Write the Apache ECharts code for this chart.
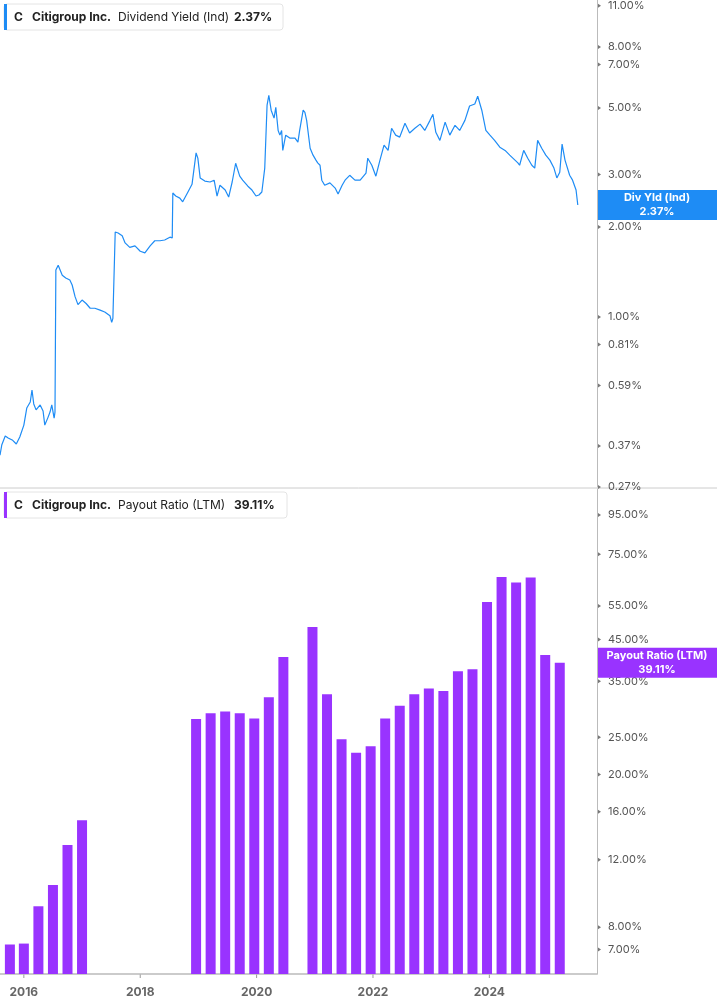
<!DOCTYPE html>
<html><head><meta charset="utf-8">
<script src="https://cdn.jsdelivr.net/npm/echarts@6/dist/echarts.min.js"></script>
<style>html,body{margin:0;padding:0;background:#fff}#c{width:717px;height:1005px}</style>
</head><body><div id="c"></div>
<script>
const yieldSeries = [
[2015.59,0.345],[2015.62,0.373],[2015.68,0.400],[2015.73,0.394],[2015.80,0.388],[2015.87,0.376],[2015.93,0.397],[2016.00,0.435],[2016.05,0.496],[2016.11,0.520],[2016.14,0.570],[2016.17,0.512],[2016.21,0.489],[2016.28,0.508],[2016.33,0.485],[2016.36,0.435],[2016.41,0.459],[2016.45,0.481],[2016.48,0.508],[2016.52,0.459],[2016.535,0.481],
[2016.55,1.436],[2016.59,1.49],[2016.66,1.38],[2016.72,1.35],[2016.79,1.33],[2016.83,1.28],[2016.88,1.17],[2016.93,1.10],[2017.00,1.14],[2017.07,1.11],[2017.14,1.07],[2017.22,1.07],[2017.31,1.055],[2017.39,1.04],[2017.48,1.01],[2017.51,0.96],[2017.53,0.99],
[2017.57,1.925],[2017.62,1.91],[2017.69,1.87],[2017.74,1.77],[2017.82,1.71],[2017.91,1.73],[2018.00,1.66],[2018.08,1.64],[2018.17,1.73],[2018.25,1.80],[2018.34,1.80],[2018.42,1.81],[2018.51,1.85],[2018.55,1.84],
[2018.56,2.60],[2018.61,2.54],[2018.68,2.50],[2018.73,2.43],[2018.82,2.62],[2018.89,2.78],[2018.96,3.54],[2018.99,3.40],[2019.03,2.92],[2019.11,2.85],[2019.20,2.83],[2019.27,2.87],[2019.32,2.54],[2019.37,2.76],[2019.46,2.66],[2019.52,2.52],[2019.58,2.83],[2019.64,3.27],[2019.71,2.96],[2019.76,2.87],[2019.85,2.74],[2019.92,2.66],[2019.99,2.54],[2020.04,2.56],[2020.09,2.62],
[2020.14,3.15],[2020.18,5.12],[2020.21,5.52],[2020.25,4.92],[2020.30,4.63],[2020.33,5.03],[2020.37,4.21],[2020.40,4.06],[2020.43,4.21],[2020.45,3.61],[2020.50,4.06],[2020.57,3.97],[2020.66,3.97],[2020.71,3.85],[2020.74,4.21],[2020.80,4.92],[2020.83,4.84],[2020.86,4.55],[2020.92,3.67],[2020.97,3.48],
[2021.02,3.35],[2021.05,3.28],[2021.09,3.22],[2021.12,2.87],[2021.17,2.76],[2021.26,2.81],[2021.35,2.70],[2021.40,2.58],[2021.47,2.76],[2021.52,2.87],[2021.60,2.98],[2021.69,2.87],[2021.78,2.87],[2021.88,3.03],[2021.91,3.40],[2021.98,3.22],
[2022.05,2.96],[2022.12,3.35],[2022.19,3.76],[2022.26,3.61],[2022.32,4.28],[2022.39,4.06],[2022.46,4.00],[2022.55,4.45],[2022.63,4.13],[2022.72,4.28],[2022.81,4.42],[2022.89,4.21],[2022.98,4.55],
[2023.03,4.77],[2023.08,4.15],[2023.15,3.90],[2023.24,4.49],[2023.32,4.06],[2023.41,4.38],[2023.49,4.21],[2023.58,4.55],[2023.66,5.08],[2023.75,5.16],[2023.80,5.48],[2023.87,4.92],[2023.94,4.21],
[2024.01,4.06],[2024.09,3.90],[2024.18,3.70],[2024.27,3.61],[2024.35,3.48],[2024.44,3.35],[2024.49,3.28],[2024.52,3.22],[2024.59,3.61],[2024.66,3.40],[2024.73,3.22],[2024.78,3.15],[2024.83,3.90],[2024.90,3.67],[2024.97,3.48],
[2025.04,3.35],[2025.11,3.15],[2025.16,2.92],[2025.21,3.05],[2025.25,3.79],[2025.30,3.35],[2025.38,2.98],[2025.43,2.87],[2025.49,2.66],[2025.52,2.37]
];
const payoutDates = [2015.76,2016.0,2016.25,2016.5,2016.75,2017.0,
 2018.96,2019.21,2019.46,2019.71,2019.96,2020.21,2020.46,
 2020.96,2021.21,2021.46,2021.71,2021.96,2022.21,2022.46,2022.71,2022.96,2023.21,2023.46,2023.71,2023.96,2024.21,2024.46,2024.71,2024.96,2025.21];
const payoutValues = [7.21,7.25,9.07,10.3,13.1,15.2,
 27.9,28.9,29.2,28.9,28.0,31.8,40.5,
 48.5,32.4,24.7,22.8,23.7,28.0,30.2,32.4,33.5,33.0,37.2,37.6,56.3,65.5,63.3,65.3,41.0,39.11];
const yieldTicks = [11,8,7,5,3,2,1,0.81,0.59,0.37,0.27];
const payoutTicks = [95,75,55,45,35,25,20,16,12,8,7];
const yearTicks = [2016,2018,2020,2022,2024];

const BLUE='#1E8CF5', PURPLE='#9933FF', FONT='Inter, "Noto Sans", sans-serif';
const chart = echarts.init(document.getElementById('c'));
const axisCommon = {type:'value',min:2015.59,max:2025.85,splitLine:{show:false},axisTick:{show:false}};
chart.setOption({
  animation:false,
  grid:[{left:0,right:120,top:0,height:487},{left:0,right:120,top:489,bottom:31}],
  xAxis:[
    Object.assign({gridIndex:0,axisLine:{show:false},axisLabel:{show:false}},axisCommon),
    Object.assign({gridIndex:1,axisLine:{show:true,lineStyle:{color:'#bbb',width:1.5}},axisLabel:{show:false}},axisCommon)
  ],
  yAxis:[
    {gridIndex:0,type:'log',min:0.27,max:11.5,position:'right',axisLine:{show:true,lineStyle:{color:'#bbb'}},axisTick:{show:false},axisLabel:{show:false},splitLine:{show:false}},
    {gridIndex:1,type:'log',min:6.04,max:111,position:'right',axisLine:{show:true,lineStyle:{color:'#bbb'}},axisTick:{show:false},axisLabel:{show:false},splitLine:{show:false}}
  ],
  series:[
    {type:'line',xAxisIndex:0,yAxisIndex:0,data:yieldSeries,showSymbol:false,lineStyle:{color:BLUE,width:1.2}},
    {type:'bar',xAxisIndex:1,yAxisIndex:1,data:payoutDates.map((d,i)=>[d,payoutValues[i]]),barWidth:10,itemStyle:{color:PURPLE}}
  ]
});

const g = [];
g.push({type:'line',shape:{x1:0,y1:488,x2:717,y2:488},style:{stroke:'#ccc',lineWidth:1}});
function ticks(list, yi){
  list.forEach(v=>{
    const p = chart.convertToPixel({xAxisIndex:yi, yAxisIndex:yi},[2025.85,v]);
    const lbl = (v>=1? v.toFixed(2): v.toFixed(2))+'%';
    g.push({type:'polygon',shape:{points:[[598,p[1]-2],[601,p[1]],[598,p[1]+2]]},style:{fill:'#777'}});
    g.push({type:'text',x:608,y:p[1],style:{text:lbl,fill:'#555',font:'11px '+FONT,textVerticalAlign:'middle'}});
  });
}
ticks(yieldTicks,0); ticks(payoutTicks,1);
yearTicks.forEach(yr=>{
  const p = chart.convertToPixel({xAxisIndex:1,yAxisIndex:1},[yr,6.04]);
  g.push({type:'line',shape:{x1:p[0],y1:p[1],x2:p[0],y2:p[1]+4},style:{stroke:'#999',lineWidth:1}});
  g.push({type:'text',x:p[0],y:p[1]+18,style:{text:String(yr),fill:'#666',font:'bold 12px '+FONT,textAlign:'center',textVerticalAlign:'middle'}});
});
function legend(y, w, color, label, val){
  g.push({type:'rect',shape:{x:4,y:y,width:w,height:26,r:3},style:{fill:'#fff',stroke:'#e4e4e4',lineWidth:1}});
  g.push({type:'rect',shape:{x:4,y:y,width:3,height:26},style:{fill:color}});
  const parts=[['C',14,'bold'],['Citigroup Inc.',32,'bold'],[label,118,'normal'],[val,label.length>20?230:234,'bold']];
  parts.forEach(([t,x,wt])=>g.push({type:'text',x:x,y:y+13,style:{text:t,fill:'#222',font:wt+' 12px '+FONT,textVerticalAlign:'middle'}}));
}
legend(4,279,BLUE,'Dividend Yield (Ind)','2.37%');
legend(492,283,PURPLE,'Payout Ratio (LTM)','39.11%');
function endLabel(v, yi, color, t1, t2){
  const p = chart.convertToPixel({xAxisIndex:yi,yAxisIndex:yi},[2025.85,v]);
  g.push({type:'rect',shape:{x:598,y:p[1]-15,width:119,height:30},style:{fill:color}});
  g.push({type:'text',x:657,y:p[1]-7,style:{text:t1,fill:'#fff',font:'bold 11px '+FONT,textAlign:'center',textVerticalAlign:'middle'}});
  g.push({type:'text',x:657,y:p[1]+7,style:{text:t2,fill:'#fff',font:'bold 11px '+FONT,textAlign:'center',textVerticalAlign:'middle'}});
}
endLabel(2.37,0,BLUE,'Div Yld (Ind)','2.37%');
endLabel(39.11,1,PURPLE,'Payout Ratio (LTM)','39.11%');
chart.setOption({graphic:g});
</script></body></html>
